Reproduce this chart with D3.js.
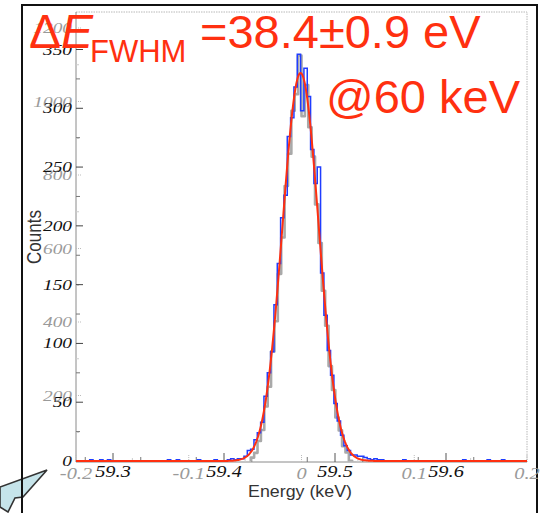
<!DOCTYPE html>
<html>
<head>
<meta charset="utf-8">
<script src="https://cdn.jsdelivr.net/npm/d3@7"></script>
<style>
  body { margin: 0; background: #fff; }
  svg { display: block; }
</style>
</head>
<body>
<svg id="chart" width="541" height="513"></svg>
<script>
// ---- axis ticks ----
const energyTicks = [59.3, 59.4, 59.5, 59.6];
const energyTickLabels = ["59.3", "59.4", "59.5", "59.6"];
const countTicks = [0, 50, 100, 150, 200, 250, 300, 350];
const offsetTicks = [-0.2, -0.1, 0, 0.1, 0.2];
const offsetTickLabels = ["-0.2", "-0.1", "0", "0.1", "0.2"];
const rawCountTicks = [200, 400, 600, 800, 1000, 1200];

// ---- spectrum (counts per 3 eV bin) ----
const binWidth = 0.003;
const blueStart = 59.388;
const blueCounts = [0, 1, 0, 0, 0, 1, 2, 1, 2, 2, 4, 9, 10, 18, 24, 33, 55, 75, 93, 133,
  168, 207, 226, 276, 292, 318, 346, 298, 334, 310, 265, 236, 250, 160, 124, 94, 73, 49,
  34, 22, 13, 9, 5, 5, 4, 4, 3, 2, 1, 2, 1, 1];
const blueTailEnergies = [59.279, 59.288, 59.295, 59.349, 59.357, 59.376, 59.561, 59.615, 59.637, 59.650];
const blueTailCounts = [1, 1, 1, 1, 1, 1, 1, 1, 1, 1];

// raw spectrum on the offset axis (keV from line centre, raw counts)
const grayStart = -0.066;
const grayCounts = [0, 2, 0, 3, 5, 12, 15, 31, 44, 76, 106, 170, 224, 320, 402, 531, 630,
  770, 858, 975, 1020, 1125, 960, 1045, 930, 850, 720, 615, 485, 390, 280, 215, 140, 105,
  62, 45, 22, 16, 8, 6, 3, 2, 1];

// ---- Gaussian fit ----
const fitMean = 59.469;
const fitFwhm = 0.0384;     // keV
const fitAmplitude = 330;

// ---- layout ----
const svg = d3.select("#chart");
const W = 541, H = 513;
const plot = { left: 76, right: 527, top: 12, bottom: 462 };

const x = d3.scaleLinear().domain([59.3, 59.6]).range([113, 446]);
const y = d3.scaleLinear().domain([0, 350]).range([461, 49.5]);
const xg = d3.scaleLinear().domain([-0.2, 0.2]).range([76, 527]);
const yg = d3.scaleLinear().domain([0, 1200]).range([469, 28]);

svg.append("rect").attr("width", W).attr("height", H).attr("fill", "#fff");

svg.append("defs").append("clipPath").attr("id", "plotClip")
  .append("rect").attr("x", plot.left).attr("y", plot.top)
  .attr("width", plot.right - plot.left).attr("height", plot.bottom - plot.top - 0.5);

// callout tail
svg.append("polygon")
  .attr("points", [[0, 487], [47, 470], [23, 497], [15, 498], [8, 512], [0, 507]].map(p => p.join(",")).join(" "))
  .attr("fill", "#c6e4ea").attr("stroke", "#333").attr("stroke-width", 1.6);

// outer frame
svg.append("path")
  .attr("d", `M22,${H} L22,5 L537,5 L537,${H}`)
  .attr("fill", "none").attr("stroke", "#111").attr("stroke-width", 2);

// plot frame
svg.append("path")
  .attr("d", `M${plot.left},${plot.top} H${plot.right} V${plot.bottom}`)
  .attr("fill", "none").attr("stroke", "#b8b8b8").attr("stroke-width", 1).attr("stroke-dasharray", "1.5,1");
svg.append("path")
  .attr("d", `M${plot.left},${plot.top} V${plot.bottom} H${plot.right}`)
  .attr("fill", "none").attr("stroke", "#8a8a8a").attr("stroke-width", 1);

const g = svg.append("g");

// raw-axis ticks (grey)
rawCountTicks.forEach(v => {
  g.append("line").attr("x1", plot.left).attr("x2", plot.left + 6)
    .attr("y1", yg(v)).attr("y2", yg(v)).attr("stroke", "#bbb").attr("stroke-dasharray", "1,1");
});
d3.range(100, 1300, 200).forEach(v => {
  g.append("line").attr("x1", plot.left).attr("x2", plot.left + 3)
    .attr("y1", yg(v)).attr("y2", yg(v)).attr("stroke", "#ccc");
});
offsetTicks.forEach(v => {
  g.append("line").attr("x1", xg(v)).attr("x2", xg(v))
    .attr("y1", plot.bottom).attr("y2", plot.bottom - 8).attr("stroke", "#bbb").attr("stroke-dasharray", "1,1");
});
d3.range(-0.15, 0.2, 0.1).forEach(v => {
  g.append("line").attr("x1", xg(v)).attr("x2", xg(v))
    .attr("y1", plot.bottom).attr("y2", plot.bottom - 4).attr("stroke", "#ccc");
});

// energy / count ticks (black)
countTicks.forEach(v => {
  g.append("line").attr("x1", plot.left).attr("x2", plot.left + 7)
    .attr("y1", y(v)).attr("y2", y(v)).attr("stroke", "#444");
});
d3.range(25, 375, 50).forEach(v => {
  g.append("line").attr("x1", plot.left).attr("x2", plot.left + 4)
    .attr("y1", y(v)).attr("y2", y(v)).attr("stroke", "#777");
});
energyTicks.forEach(v => {
  g.append("line").attr("x1", x(v)).attr("x2", x(v))
    .attr("y1", plot.bottom).attr("y2", plot.bottom - 9).attr("stroke", "#555");
});
d3.range(59.275, 59.675, 0.05).forEach(v => {
  if (x(v) > plot.left && x(v) < plot.right)
    g.append("line").attr("x1", x(v)).attr("x2", x(v))
      .attr("y1", plot.bottom).attr("y2", plot.bottom - 5).attr("stroke", "#777");
});

// tick labels
const serif = "'Liberation Serif', 'Times New Roman', serif";
function label(txt, px, py, anchor, color, size, sx) {
  svg.append("text")
    .attr("transform", `translate(${px},${py}) scale(${sx},1)`)
    .attr("text-anchor", anchor)
    .attr("font-family", serif).attr("font-style", "italic")
    .attr("font-size", size).attr("fill", color)
    .text(txt);
}
rawCountTicks.forEach(v => label(String(v), 72, yg(v) + 5, "end", "#9a9a9a", 15.5, 1.25));
offsetTicks.forEach((v, i) => label(offsetTickLabels[i], xg(v), 479, "middle", "#9a9a9a", 17, 1.2));
countTicks.forEach(v => label(String(v), 72, y(v) + 5, "end", "#111", 15.5, 1.25));
energyTicks.forEach((v, i) => label(energyTickLabels[i], x(v), 477, "middle", "#111", 17, 1.2));

// axis titles
const sans = "'Liberation Sans', Arial, sans-serif";
svg.append("text")
  .attr("transform", "translate(300,497) scale(1.08,1)")
  .attr("text-anchor", "middle").attr("font-family", sans).attr("font-size", 16.5)
  .attr("fill", "#333").text("Energy (keV)");
svg.append("text")
  .attr("transform", "translate(41,237) rotate(-90) scale(1,1.15)")
  .attr("text-anchor", "middle").attr("font-family", sans).attr("font-size", 17)
  .attr("fill", "#333").text("Counts");

// histogram outline: adjacent bins share edges, gaps fall back to zero
function stepPath(bins, xs, ys, x0, x1) {
  const pts = [[xs(x0), ys(0)]];
  let prevEnd = null;
  bins.forEach(b => {
    const lo = b.lo, hi = b.lo + binWidth;
    if (prevEnd === null || lo - prevEnd > 1e-6) {
      if (prevEnd !== null) pts.push([xs(prevEnd), ys(0)]);
      pts.push([xs(lo), ys(0)]);
    }
    pts.push([xs(lo), ys(b.n)]);
    pts.push([xs(hi), ys(b.n)]);
    prevEnd = hi;
  });
  pts.push([xs(prevEnd), ys(0)]);
  pts.push([xs(x1), ys(0)]);
  return d3.line()(pts);
}

const grayBins = grayCounts.map((n, i) => ({ lo: grayStart + i * binWidth, n }));
const blueBins = blueCounts.map((n, i) => ({ lo: blueStart + i * binWidth, n }))
  .concat(blueTailEnergies.map((e, i) => ({ lo: e, n: blueTailCounts[i] })))
  .sort((a, b) => a.lo - b.lo);

const marks = svg.append("g").attr("clip-path", "url(#plotClip)");

marks.append("path")
  .attr("d", stepPath(grayBins, xg, yg, -0.2, 0.2))
  .attr("fill", "none").attr("stroke", "#a9a9a9").attr("stroke-width", 2.6)
  .attr("stroke-linejoin", "round");

const eMin = x.invert(plot.left), eMax = x.invert(plot.right);
svg.append("path")
  .attr("d", stepPath(blueBins, x, y, eMin, eMax))
  .attr("fill", "none").attr("stroke", "#1f3dff").attr("stroke-width", 1.5);

// fitted Gaussian
const sigma = fitFwhm / (2 * Math.sqrt(2 * Math.LN2));
const fitPts = d3.range(0, 601).map(i => {
  const e = eMin + (eMax - eMin) * i / 600;
  return [x(e), y(fitAmplitude * Math.exp(-0.5 * ((e - fitMean) / sigma) ** 2))];
});
svg.append("path")
  .attr("d", d3.line()(fitPts))
  .attr("fill", "none").attr("stroke", "#ff3010").attr("stroke-width", 2);

// resolution annotation
const red = "#ff3010";
const t1 = svg.append("text").attr("x", 29).attr("y", 48)
  .attr("font-family", sans).attr("font-size", 48).attr("fill", red);
t1.append("tspan").text("Δ");
t1.append("tspan").attr("font-style", "italic").text("E");
svg.append("text").attr("x", 90).attr("y", 62)
  .attr("font-family", sans).attr("font-size", 31).attr("fill", red).text("FWHM");
svg.append("text").attr("x", 200).attr("y", 48)
  .attr("font-family", sans).attr("font-size", 47).attr("fill", red).text("=38.4±0.9 eV");
svg.append("text").attr("x", 326).attr("y", 113)
  .attr("font-family", sans).attr("font-size", 47).attr("fill", red).text("@60 keV");
</script>
</body>
</html>
